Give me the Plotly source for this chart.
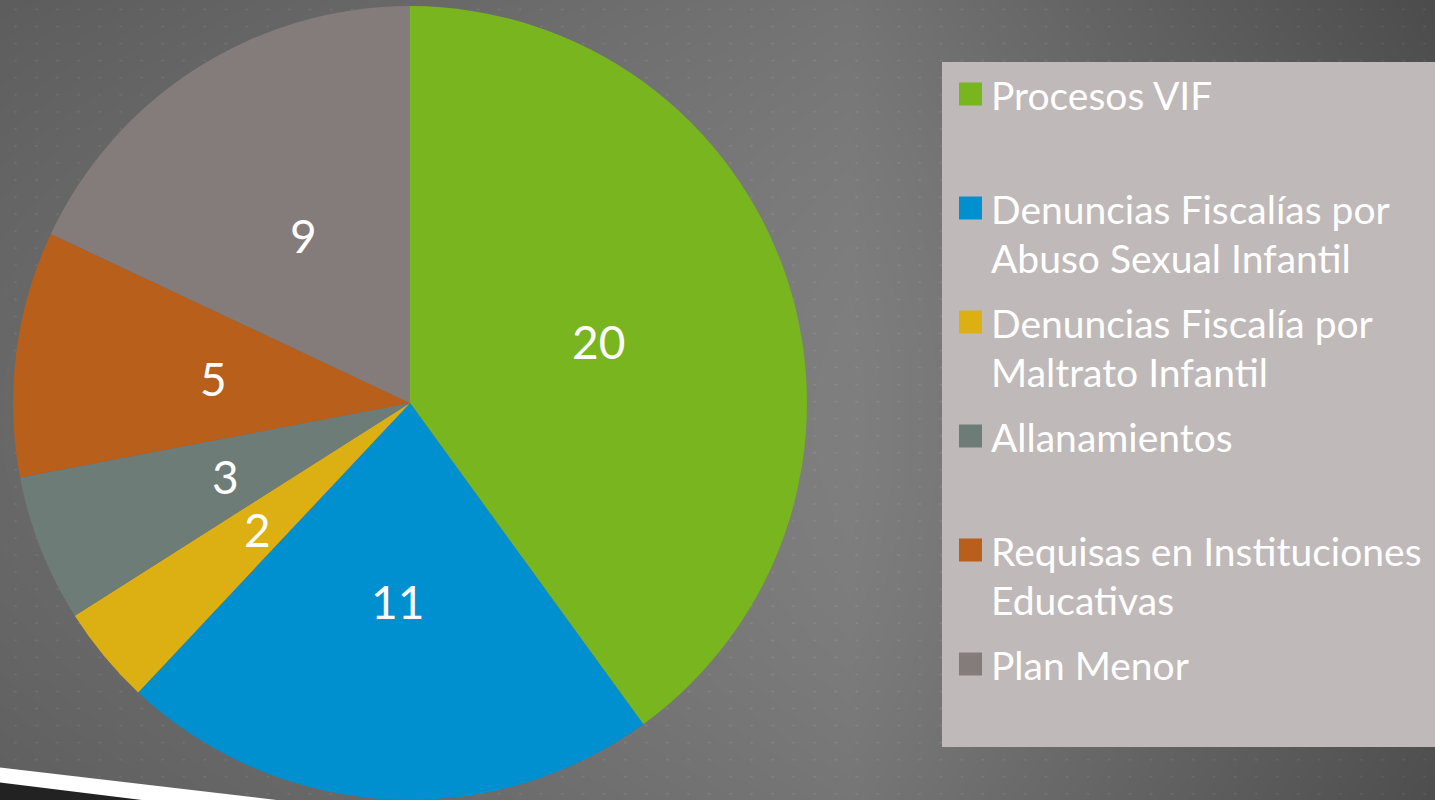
import base64
import struct
import zlib

import numpy as np
import plotly.graph_objects as go

# ---------------- data ----------------
labels = [
    "Procesos VIF",
    "Denuncias Fiscalías por<br>Abuso Sexual Infantil",
    "Denuncias Fiscalía por<br>Maltrato Infantil",
    "Allanamientos",
    "Requisas en Instituciones<br>Educativas",
    "Plan Menor",
]
values = [20, 11, 2, 3, 5, 9]
colors = ["#78b51f", "#008fcf", "#dcb012", "#6e7c78", "#b85f1b", "#847b7b"]

# ---------------- page geometry ----------------
W, H = 1435, 800
CX, CY, R = 410.0, 403.0, 397.0  # pie centre / radius in pixels
FONT = "Lato"


def px(x, y):
    """pixel (from top-left) -> paper coords"""
    return x / W, 1 - y / H


# ---------------- background texture (gradient + dot grid) ----------------
ys, xs = np.mgrid[0:H, 0:W].astype(float)
base = np.where(xs < 850, 104 + 23 * xs / 850, 127 - 40 * (xs - 850) / 585)
bg = base - 10 * ((ys - 420) / 400) ** 2
sx, sy = 21.03, 17.05
fx = (xs - 15) / sx
fy = (ys - 9) / sy
ddx = (fx - np.round(fx)) * sx
ddy = (fy - np.round(fy)) * sy
bg += 14 * np.exp(-(ddx / 1.3) ** 2 - (ddy / 0.9) ** 2)
bg = np.clip(bg, 0, 255).astype(np.uint8)


def png_gray(arr):
    h, w = arr.shape
    raw = np.hstack([np.zeros((h, 1), np.uint8), arr]).tobytes()

    def chunk(tag, data):
        return (struct.pack(">I", len(data)) + tag + data
                + struct.pack(">I", zlib.crc32(tag + data) & 0xFFFFFFFF))

    return (b"\x89PNG\r\n\x1a\n"
            + chunk(b"IHDR", struct.pack(">IIBBBBB", w, h, 8, 0, 0, 0, 0))
            + chunk(b"IDAT", zlib.compress(raw, 9))
            + chunk(b"IEND", b""))


bg_src = "data:image/png;base64," + base64.b64encode(png_gray(bg)).decode()

# ---------------- figure ----------------
fig = go.Figure()
fig.add_trace(go.Pie(
    labels=labels,
    values=values,
    marker=dict(colors=colors, line=dict(width=0)),
    sort=False,
    direction="clockwise",
    rotation=0,
    textinfo="none",
    hoverinfo="label+value",
    showlegend=False,
    domain=dict(x=[(CX - R) / W, (CX + R) / W],
                y=[(H - CY - R) / H, (H - CY + R) / H]),
))

annotations = []
shapes = []

# value labels at half radius on each slice's mid-angle (PowerPoint "centre")
total = float(sum(values))
cum = 0.0
for v in values:
    mid = (cum + v / 2) / total * 2 * np.pi
    cum += v
    x, y = px(CX + 0.5 * R * np.sin(mid), CY - 0.5 * R * np.cos(mid))
    annotations.append(dict(x=x, y=y, xref="paper", yref="paper", text=str(v),
                            showarrow=False, xanchor="center", yanchor="middle",
                            font=dict(family=FONT, size=46, color="white")))

# legend panel
x0, y0 = px(942, 62)
x1, y1 = px(1440, 747)
shapes.append(dict(type="rect", xref="paper", yref="paper", x0=x0, y0=y1, x1=x1, y1=y0,
                   fillcolor="#bfb9b9", line=dict(width=0), layer="below"))
for i, (lab, col) in enumerate(zip(labels, colors)):
    yc = 94 + 114 * i
    a0, b0 = px(959, yc - 11.5)
    a1, b1 = px(982, yc + 11.5)
    shapes.append(dict(type="rect", xref="paper", yref="paper", x0=a0, x1=a1, y0=b1, y1=b0,
                       fillcolor=col, line=dict(width=0), layer="above"))
    for j, line in enumerate(lab.split("<br>")):
        tx, ty = px(989, yc + 49 * j + 1)
        annotations.append(dict(x=tx, y=ty, xref="paper", yref="paper", text=line,
                                showarrow=False, xanchor="left", yanchor="middle",
                                font=dict(family=FONT, size=39, color="white")))

# decorative stripe bottom-left
def path(points):
    p = [px(*pt) for pt in points]
    return "M" + " L".join(f"{a:.5f},{b:.5f}" for a, b in p) + " Z"


shapes.append(dict(type="path", xref="paper", yref="paper",
                   path=path([(-5, 767), (285, 801), (-5, 801)]),
                   fillcolor="#ffffff", line=dict(width=0), layer="below"))
shapes.append(dict(type="path", xref="paper", yref="paper",
                   path=path([(-5, 782), (150, 801), (-5, 801)]),
                   fillcolor="#222222", line=dict(width=0), layer="below"))

fig.update_layout(
    width=W, height=H,
    margin=dict(l=0, r=0, t=0, b=0),
    paper_bgcolor="#6b6b6b",
    plot_bgcolor="rgba(0,0,0,0)",
    images=[dict(source=bg_src, xref="paper", yref="paper", x=0, y=1,
                 sizex=1, sizey=1, sizing="stretch", xanchor="left",
                 yanchor="top", layer="below")],
    shapes=shapes,
    annotations=annotations,
    font=dict(family=FONT, color="white"),
)

fig.write_html("out.html",
               config={"displayModeBar": False},
               post_script="document.body.style.margin='0px';document.body.style.overflow='hidden';")
